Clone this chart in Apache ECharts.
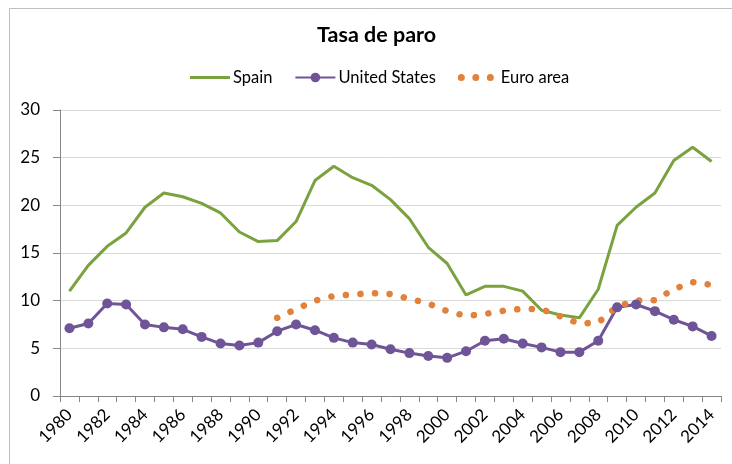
<!DOCTYPE html>
<html>
<head>
<meta charset="utf-8">
<script src="https://cdn.jsdelivr.net/npm/echarts@6/dist/echarts.min.js"></script>
<style>
    html, body { margin: 0; padding: 0; background: #fff; }
    #chart { width: 732px; height: 464px; }
</style>
</head>
<body>
<div id="chart"></div>
<script>
let years = [];
for (let y = 1980; y <= 2014; y++) years.push(String(y));

let spain = [11.0, 13.7, 15.7, 17.1, 19.8, 21.3, 20.9, 20.2, 19.2, 17.2,
    16.2, 16.3, 18.3, 22.6, 24.1, 22.9, 22.1, 20.6, 18.6, 15.6,
    13.9, 10.6, 11.5, 11.5, 11.0, 9.0, 8.5, 8.2, 11.2, 17.9,
    19.8, 21.3, 24.7, 26.1, 24.6];

let unitedStates = [7.1, 7.6, 9.7, 9.6, 7.5, 7.2, 7.0, 6.2, 5.5, 5.3,
    5.6, 6.8, 7.5, 6.9, 6.1, 5.6, 5.4, 4.9, 4.5, 4.2,
    4.0, 4.7, 5.8, 6.0, 5.5, 5.1, 4.6, 4.6, 5.8, 9.3,
    9.6, 8.9, 8.0, 7.3, 6.3];

let euroArea = [null, null, null, null, null, null, null, null, null, null,
    null, 8.2, 9.1, 10.0, 10.5, 10.65, 10.8, 10.7, 10.2, 9.7,
    8.9, 8.4, 8.6, 8.95, 9.15, 9.1, 8.35, 7.6, 7.7, 9.4,
    10.0, 10.05, 11.2, 11.95, 11.65];

let yTicks = [0, 5, 10, 15, 20, 25, 30];

let font = 'Lato, "Open Sans", sans-serif';
let green = '#7aa23f', purple = '#6f5597', orange = '#e2813b';

// legend icons: plain line for Spain, three dots for Euro area
let lineIcon = 'path://M0,0 L40,0 L40,3 L0,3 Z';
let dotsIcon = 'path://M0,0 M40,12 ' +
    'M0,6 A3.5,3.5 0 1,0 7,6 A3.5,3.5 0 1,0 0,6 Z ' +
    'M14.5,6 A3.5,3.5 0 1,0 21.5,6 A3.5,3.5 0 1,0 14.5,6 Z ' +
    'M29,6 A3.5,3.5 0 1,0 36,6 A3.5,3.5 0 1,0 29,6 Z';

let chart = echarts.init(document.getElementById('chart'));

let option = {
    backgroundColor: '#fff',
    animation: false,
    title: {
        text: 'Tasa de paro',
        left: 317,
        top: 24,
        padding: 0,
        textStyle: { fontFamily: font, fontSize: 21.5, fontWeight: 'bold', color: '#000' }
    },
    legend: {
        left: 190,
        top: 69,
        padding: 0,
        itemWidth: 40,
        itemHeight: 12,
        itemGap: 22,
        symbolKeepAspect: true,
        textStyle: { fontFamily: font, fontSize: 16.5, color: '#000', padding: [0, 0, 0, -2] },
        data: [
            { name: 'Spain', icon: lineIcon },
            { name: 'United States' },
            { name: 'Euro area', icon: dotsIcon }
        ]
    },
    graphic: [{
        type: 'rect',
        shape: { x: 9.5, y: 8.5, width: 800, height: 600 },
        style: { fill: 'none', stroke: '#bfbfbf', lineWidth: 1 },
        silent: true
    }],
    grid: { left: 60, right: 11, top: 110, bottom: 68, containLabel: false },
    xAxis: {
        type: 'category',
        data: years,
        boundaryGap: true,
        axisLine: { lineStyle: { color: '#868686', width: 1 } },
        axisTick: { show: true, interval: 0, length: 6, lineStyle: { color: '#868686' } },
        axisLabel: {
            interval: 1,
            rotate: 45,
            margin: 16,
            fontFamily: font,
            fontSize: 17,
            color: '#000'
        }
    },
    yAxis: {
        type: 'value',
        min: yTicks[0],
        max: yTicks[yTicks.length - 1],
        interval: 5,
        axisLine: { show: true, lineStyle: { color: '#868686', width: 1 } },
        axisTick: { show: true, length: 7, lineStyle: { color: '#868686' } },
        axisLabel: { margin: 20, fontFamily: font, fontSize: 17, color: '#000' },
        splitLine: { lineStyle: { color: '#d9d9d9', width: 1 } }
    },
    series: [
        {
            name: 'Spain',
            type: 'line',
            data: spain,
            symbol: 'none',
            lineStyle: { color: green, width: 3 },
            itemStyle: { color: green }
        },
        {
            name: 'United States',
            type: 'line',
            data: unitedStates,
            symbol: 'circle',
            symbolSize: 10,
            showAllSymbol: true,
            lineStyle: { color: purple, width: 3 },
            itemStyle: { color: purple }
        },
        {
            name: 'Euro area',
            type: 'line',
            data: euroArea,
            symbol: 'none',
            lineStyle: { color: orange, width: 6.5, type: [0.1, 14.5], cap: 'round' },
            itemStyle: { color: orange }
        }
    ]
};
chart.setOption(option);
</script>
</body>
</html>
